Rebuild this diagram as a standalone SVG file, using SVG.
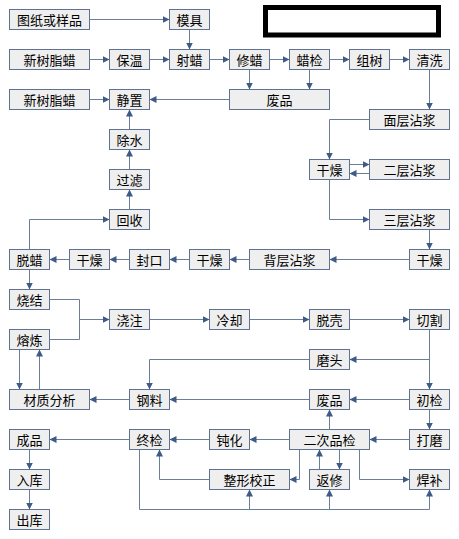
<svg xmlns="http://www.w3.org/2000/svg" width="459" height="539" viewBox="0 0 459 539">
<style>
.b rect{fill:#efefef;stroke:#5f7291;stroke-width:1}
.b text{font-family:"Noto Sans CJK SC","Microsoft YaHei",sans-serif;font-size:13px;fill:#000;text-anchor:middle;dominant-baseline:central}
.c path{fill:none;stroke:#6a7d9b;stroke-width:1}
.c path.a{marker-end:url(#ah)}
</style>
<defs>
<marker id="ah" markerUnits="userSpaceOnUse" markerWidth="7" markerHeight="7" refX="7" refY="3.5" orient="auto">
<path d="M0,0 L7,3.5 L0,7 z" fill="#3e5b86"/>
</marker>
</defs>
<rect x="265.5" y="7.5" width="173" height="27.5" fill="#fff" stroke="#000" stroke-width="5"/>
<g class="c">
<path class="a" d="M89.5,19.5 H169.5"/>
<path class="a" d="M189.5,29.5 V49.5"/>
<path class="a" d="M89.5,59.5 H109.5"/>
<path class="a" d="M149.5,59.5 H169.5"/>
<path class="a" d="M209.5,59.5 H229.5"/>
<path class="a" d="M269.5,59.5 H289.5"/>
<path class="a" d="M329.5,59.5 H349.5"/>
<path class="a" d="M389.5,59.5 H409.5"/>
<path class="a" d="M249.5,69.5 V89.5"/>
<path class="a" d="M309.5,69.5 V89.5"/>
<path class="a" d="M89.5,99.5 H109.5"/>
<path class="a" d="M229.5,99.5 H149.5"/>
<path class="a" d="M429.5,69.5 V109.5"/>
<path class="a" d="M369.5,119.5 H329.5 V159.5"/>
<path class="a" d="M349.5,164.5 H369.5"/>
<path class="a" d="M369.5,173.5 H349.5"/>
<path class="a" d="M329.5,179.5 V219.5 H369.5"/>
<path class="a" d="M429.5,229.5 V249.5"/>
<path class="a" d="M409.5,259.5 H329.5"/>
<path class="a" d="M249.5,259.5 H229.5"/>
<path class="a" d="M189.5,259.5 H169.5"/>
<path class="a" d="M129.5,259.5 H109.5"/>
<path class="a" d="M69.5,259.5 H49.5"/>
<path class="a" d="M29.5,249.5 V219.5 H109.5"/>
<path class="a" d="M129.5,209.5 V189.5"/>
<path class="a" d="M129.5,169.5 V149.5"/>
<path class="a" d="M129.5,129.5 V109.5"/>
<path class="a" d="M29.5,269.5 V289.5"/>
<path d="M49.5,299.5 H79.5 V339.5 H49.5"/>
<path class="a" d="M79.5,319.5 H109.5"/>
<path class="a" d="M149.5,319.5 H209.5"/>
<path class="a" d="M249.5,319.5 H309.5"/>
<path class="a" d="M349.5,319.5 H409.5"/>
<path class="a" d="M429.5,329.5 V389.5"/>
<path class="a" d="M429.5,359.5 H349.5"/>
<path class="a" d="M309.5,359.5 H149.5 V389.5"/>
<path class="a" d="M409.5,399.5 H349.5"/>
<path class="a" d="M309.5,399.5 H169.5"/>
<path class="a" d="M129.5,399.5 H89.5"/>
<path class="a" d="M19.5,349.5 V389.5"/>
<path class="a" d="M39.5,389.5 V349.5"/>
<path class="a" d="M429.5,409.5 V429.5"/>
<path class="a" d="M409.5,439.5 H369.5"/>
<path class="a" d="M329.5,429.5 V409.5"/>
<path class="a" d="M289.5,439.5 H249.5"/>
<path class="a" d="M209.5,439.5 H169.5"/>
<path class="a" d="M129.5,439.5 H49.5"/>
<path class="a" d="M29.5,449.5 V469.5"/>
<path class="a" d="M29.5,489.5 V509.5"/>
<path class="a" d="M299.5,449.5 V479.5 H289.5"/>
<path class="a" d="M209.5,479.5 H159.5 V449.5"/>
<path class="a" d="M319.5,469.5 V449.5"/>
<path class="a" d="M339.5,449.5 V469.5"/>
<path class="a" d="M359.5,449.5 V479.5 H409.5"/>
<path class="a" d="M139.5,449.5 V509.5 H429.5 V489.5"/>
<path class="a" d="M249.5,509.5 V489.5"/>
<path class="a" d="M329.5,509.5 V489.5"/>
</g>
<g id="n1" class="b"><rect x="9.5" y="9.5" width="80" height="20"/><text x="49.5" y="19.5">图纸或样品</text></g>
<g id="n2" class="b"><rect x="169.5" y="9.5" width="40" height="20"/><text x="189.5" y="19.5">模具</text></g>
<g id="n3" class="b"><rect x="9.5" y="49.5" width="80" height="20"/><text x="49.5" y="59.5">新树脂蜡</text></g>
<g id="n4" class="b"><rect x="109.5" y="49.5" width="40" height="20"/><text x="129.5" y="59.5">保温</text></g>
<g id="n5" class="b"><rect x="169.5" y="49.5" width="40" height="20"/><text x="189.5" y="59.5">射蜡</text></g>
<g id="n6" class="b"><rect x="229.5" y="49.5" width="40" height="20"/><text x="249.5" y="59.5">修蜡</text></g>
<g id="n7" class="b"><rect x="289.5" y="49.5" width="40" height="20"/><text x="309.5" y="59.5">蜡检</text></g>
<g id="n8" class="b"><rect x="349.5" y="49.5" width="40" height="20"/><text x="369.5" y="59.5">组树</text></g>
<g id="n9" class="b"><rect x="409.5" y="49.5" width="40" height="20"/><text x="429.5" y="59.5">清洗</text></g>
<g id="n10" class="b"><rect x="9.5" y="89.5" width="80" height="20"/><text x="49.5" y="99.5">新树脂蜡</text></g>
<g id="n11" class="b"><rect x="109.5" y="89.5" width="40" height="20"/><text x="129.5" y="99.5">静置</text></g>
<g id="n12" class="b"><rect x="229.5" y="89.5" width="100" height="20"/><text x="279.5" y="99.5">废品</text></g>
<g id="n13" class="b"><rect x="369.5" y="109.5" width="80" height="20"/><text x="409.5" y="119.5">面层沾浆</text></g>
<g id="n14" class="b"><rect x="109.5" y="129.5" width="40" height="20"/><text x="129.5" y="139.5">除水</text></g>
<g id="n15" class="b"><rect x="309.5" y="159.5" width="40" height="20"/><text x="329.5" y="169.5">干燥</text></g>
<g id="n16" class="b"><rect x="369.5" y="159.5" width="80" height="20"/><text x="409.5" y="169.5">二层沾浆</text></g>
<g id="n17" class="b"><rect x="109.5" y="169.5" width="40" height="20"/><text x="129.5" y="179.5">过滤</text></g>
<g id="n18" class="b"><rect x="109.5" y="209.5" width="40" height="20"/><text x="129.5" y="219.5">回收</text></g>
<g id="n19" class="b"><rect x="369.5" y="209.5" width="80" height="20"/><text x="409.5" y="219.5">三层沾浆</text></g>
<g id="n20" class="b"><rect x="9.5" y="249.5" width="40" height="20"/><text x="29.5" y="259.5">脱蜡</text></g>
<g id="n21" class="b"><rect x="69.5" y="249.5" width="40" height="20"/><text x="89.5" y="259.5">干燥</text></g>
<g id="n22" class="b"><rect x="129.5" y="249.5" width="40" height="20"/><text x="149.5" y="259.5">封口</text></g>
<g id="n23" class="b"><rect x="189.5" y="249.5" width="40" height="20"/><text x="209.5" y="259.5">干燥</text></g>
<g id="n24" class="b"><rect x="249.5" y="249.5" width="80" height="20"/><text x="289.5" y="259.5">背层沾浆</text></g>
<g id="n25" class="b"><rect x="409.5" y="249.5" width="40" height="20"/><text x="429.5" y="259.5">干燥</text></g>
<g id="n26" class="b"><rect x="9.5" y="289.5" width="40" height="20"/><text x="29.5" y="299.5">烧结</text></g>
<g id="n27" class="b"><rect x="109.5" y="309.5" width="40" height="20"/><text x="129.5" y="319.5">浇注</text></g>
<g id="n28" class="b"><rect x="209.5" y="309.5" width="40" height="20"/><text x="229.5" y="319.5">冷却</text></g>
<g id="n29" class="b"><rect x="309.5" y="309.5" width="40" height="20"/><text x="329.5" y="319.5">脱壳</text></g>
<g id="n30" class="b"><rect x="409.5" y="309.5" width="40" height="20"/><text x="429.5" y="319.5">切割</text></g>
<g id="n31" class="b"><rect x="9.5" y="329.5" width="40" height="20"/><text x="29.5" y="339.5">熔炼</text></g>
<g id="n32" class="b"><rect x="309.5" y="349.5" width="40" height="20"/><text x="329.5" y="359.5">磨头</text></g>
<g id="n33" class="b"><rect x="9.5" y="389.5" width="80" height="20"/><text x="49.5" y="399.5">材质分析</text></g>
<g id="n34" class="b"><rect x="129.5" y="389.5" width="40" height="20"/><text x="149.5" y="399.5">钢料</text></g>
<g id="n35" class="b"><rect x="309.5" y="389.5" width="40" height="20"/><text x="329.5" y="399.5">废品</text></g>
<g id="n36" class="b"><rect x="409.5" y="389.5" width="40" height="20"/><text x="429.5" y="399.5">初检</text></g>
<g id="n37" class="b"><rect x="9.5" y="429.5" width="40" height="20"/><text x="29.5" y="439.5">成品</text></g>
<g id="n38" class="b"><rect x="129.5" y="429.5" width="40" height="20"/><text x="149.5" y="439.5">终检</text></g>
<g id="n39" class="b"><rect x="209.5" y="429.5" width="40" height="20"/><text x="229.5" y="439.5">钝化</text></g>
<g id="n40" class="b"><rect x="289.5" y="429.5" width="80" height="20"/><text x="329.5" y="439.5">二次品检</text></g>
<g id="n41" class="b"><rect x="409.5" y="429.5" width="40" height="20"/><text x="429.5" y="439.5">打磨</text></g>
<g id="n42" class="b"><rect x="9.5" y="469.5" width="40" height="20"/><text x="29.5" y="479.5">入库</text></g>
<g id="n43" class="b"><rect x="209.5" y="469.5" width="80" height="20"/><text x="249.5" y="479.5">整形校正</text></g>
<g id="n44" class="b"><rect x="309.5" y="469.5" width="40" height="20"/><text x="329.5" y="479.5">返修</text></g>
<g id="n45" class="b"><rect x="409.5" y="469.5" width="40" height="20"/><text x="429.5" y="479.5">焊补</text></g>
<g id="n46" class="b"><rect x="9.5" y="509.5" width="40" height="20"/><text x="29.5" y="519.5">出库</text></g>
</svg>
